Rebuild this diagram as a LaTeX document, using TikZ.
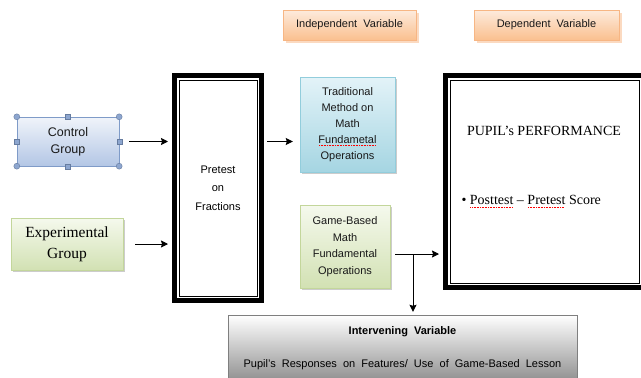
\documentclass[tikz,border=0pt]{standalone}
\usepackage{fontspec}
\setmainfont{Liberation Serif}
\setsansfont{Liberation Sans}
\usepackage{tikz}
\usetikzlibrary{arrows,arrows.meta,positioning,calc,shadows}

\definecolor{peachtop}{HTML}{FDEBDD}
\definecolor{peachbot}{HTML}{FAC08F}
\definecolor{peachline}{HTML}{F7B684}
\definecolor{bluetop}{HTML}{F0F4FA}
\definecolor{bluebot}{HTML}{B3C6E5}
\definecolor{blueline}{HTML}{7F9BC8}
\definecolor{cyantop}{HTML}{E3F3F8}
\definecolor{cyanbot}{HTML}{A5D5E2}
\definecolor{cyanline}{HTML}{92CDDC}
\definecolor{greentop}{HTML}{F5F9ED}
\definecolor{greenbot}{HTML}{D2E1B3}
\definecolor{greenline}{HTML}{C3D69B}
\definecolor{graybot}{HTML}{8E8E8E}
\definecolor{grayline}{HTML}{7F7F7F}
\definecolor{handlefill}{HTML}{8DA6CF}

% red spell-check underline
\newcommand\spellwave[1]{\setbox0=\hbox{#1}\rlap{\raisebox{-2.5pt}[0pt][0pt]{\color{red}\hbox to\wd0{\leaders\hbox to 1.6pt{\hss\rule{0.7pt}{0.5pt}\hss}\hfill}}}\box0\relax}

\begin{document}
\begin{tikzpicture}[->,>={Stealth[length=7pt,width=7pt,inset=1pt]},line width=1pt,x=1pt,y=-1pt,
  every node/.style={font=\sffamily\fontsize{11}{16}\selectfont,text=black!90,align=center,inner sep=0pt},
  var node/.style={draw=peachline,thin,top color=peachtop,bottom color=peachbot,minimum height=30pt,
    drop shadow={shadow xshift=2.5pt,shadow yshift=-2.5pt,fill=peachline,opacity=.5}},
  box node/.style={thin,drop shadow={shadow xshift=2pt,shadow yshift=-2pt,fill=black!40,opacity=.5}},
  frame node/.style={draw=black,line width=5pt,fill=white},
  handle/.style={-,thin,draw=blueline!80!black,fill=handlefill}]

  \useasboundingbox (0,0) rectangle (641,378);
  \clip (0,0) rectangle (641,378);

  % variable labels
  \node[var node,minimum width=133pt] at (349.5,25) (ivlabel) {Independent\ \ Variable};
  \node[var node,minimum width=145pt] at (546.5,25) (dvlabel) {Dependent\ \ Variable};

  % groups
  \node[draw=blueline,thin,top color=bluetop,bottom color=bluebot,minimum width=102pt,minimum height=49pt,
    font=\sffamily\fontsize{12.5}{17}\selectfont] at (68,141.5) (ctrl) {Control\\Group};
  \foreach \a in {north west,north east,south west,south east}
    \filldraw[handle] (ctrl.\a) circle (3pt);
  \foreach \a in {north,south,east,west}
    \filldraw[handle] ([shift={(-2.5,-2.5)}]ctrl.\a) rectangle ([shift={(2.5,2.5)}]ctrl.\a);
  \node[box node,draw=greenline,top color=greentop,bottom color=greenbot,minimum width=112pt,minimum height=52pt,
    font=\rmfamily\fontsize{15.5}{21}\selectfont,text=black] at (67,244) (exp) {Experimental\\Group};

  % pretest
  \node[frame node,minimum width=87pt,minimum height=225pt,text=black] at (218,188) (pre) {Pretest\\[2.5pt]on\\[2.5pt]Fractions};
  \draw[-,thin] ([shift={(7,7)}]pre.north west) rectangle ([shift={(-7,-7)}]pre.south east);

  % independent variables
  \node[box node,draw=cyanline,top color=cyantop,bottom color=cyanbot,minimum width=95pt,minimum height=95pt] at (347.5,124.5) (trad)
    {Traditional\\Method on\\Math\\\spellwave{Fundametal}\\Operations};
  \node[box node,draw=greenline,top color=greentop,bottom color=greenbot,minimum width=90pt,minimum height=83pt,
    font=\sffamily\fontsize{11}{16.6}\selectfont] at (345,246.5) (game) {Game-Based\\Math\\Fundamental\\Operations};

  % dependent variable
  \node[frame node,minimum width=198pt,minimum height=212pt] at (544.5,181.5) (dv) {};
  \draw[-,thin] ([shift={(7,7)}]dv.north west) rectangle ([shift={(-7,-7)}]dv.south east);
  \node[font=\rmfamily\fontsize{14}{16}\selectfont,text=black] at (544,131) (perf) {PUPIL’s PERFORMANCE};
  \node[font=\rmfamily\fontsize{14}{16}\selectfont,text=black,anchor=west] at (461,200) (score)
    {\textbullet\ \spellwave{Posttest} -- \spellwave{Pretest} Score};

  % intervening variable
  \node[draw=grayline,thin,top color=white,bottom color=graybot,minimum width=349pt,minimum height=67pt,
    text=black,font=\sffamily\fontsize{11}{33}\selectfont] at (402.5,348.5) (iv)
    {\textbf{Intervening\ \ Variable}\\Pupil's\ \ Responses\ \ on\ \ Features/\ \ Use\ \ of\ \ Game-Based\ \ Lesson};

  % arrows
  \coordinate (split) at (413,254);
  \draw[shorten <=10pt,shorten >=4pt] (ctrl) -- (ctrl -| pre.west);
  \draw[shorten <=12pt,shorten >=4pt] (exp) -- (exp -| pre.west);
  \draw[shorten <=3pt,shorten >=7pt] (ctrl -| pre.east) -- (ctrl -| trad.west);
  \draw[shorten <=5pt,shorten >=4pt] (game.east |- split) -- (split -| dv.west);
  \draw[shorten >=3pt] (split) -- (split |- iv.north);
\end{tikzpicture}
\end{document}
